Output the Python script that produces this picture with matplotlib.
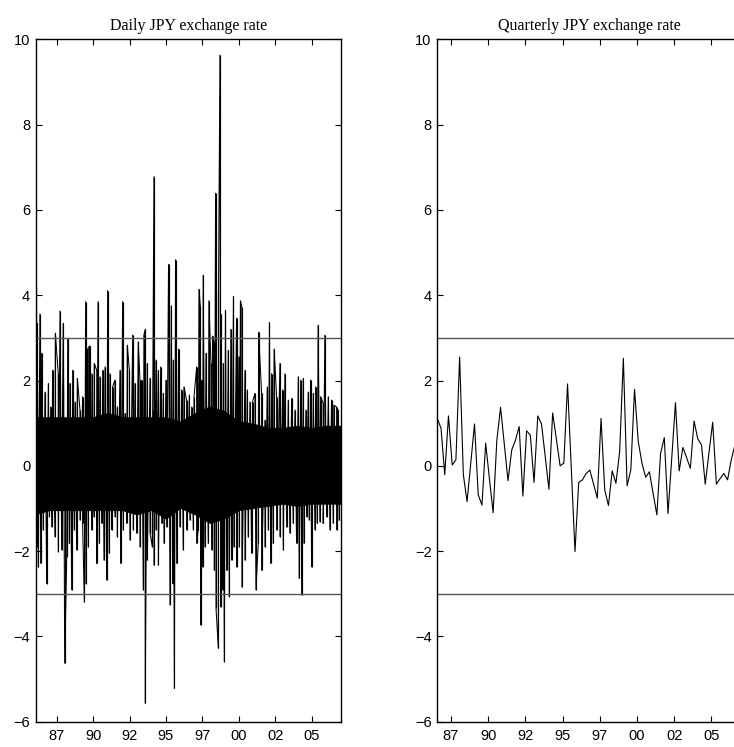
import numpy as np
import matplotlib
matplotlib.use("Agg")
import matplotlib.pyplot as plt

# ---------------- data ----------------
titles = ["Daily JPY exchange rate", "Quarterly JPY exchange rate"]
ytick_vals = [-6, -4, -2, 0, 2, 4, 6, 8, 10]
xtick_years = [1987.5, 1990.0, 1992.5, 1995.0, 1997.5, 2000.0, 2002.5, 2005.0]
xtick_labels = ["87", "90", "92", "95", "97", "00", "02", "05"]
bounds = [-3, 3]

# daily series: dense core band (yearly) and outer excursions
core_years = [1986, 1987, 1988, 1989, 1990, 1991, 1992, 1993, 1994, 1995, 1996,
              1997, 1998, 1999, 2000, 2001, 2002, 2003, 2004, 2005, 2006, 2007]
core_hi = [1.15, 1.15, 1.15, 1.15, 1.15, 1.25, 1.15, 1.15, 1.15, 1.15, 1.05,
           1.25, 1.40, 1.30, 1.05, 1.00, 0.90, 0.90, 0.95, 0.90, 0.95, 0.95]
core_lo = [-1.15, -1.05, -1.05, -1.05, -1.05, -1.05, -1.05, -1.15, -1.05, -1.25, -1.00,
           -1.15, -1.35, -1.25, -1.05, -1.00, -0.95, -0.90, -0.95, -0.90, -0.90, -0.90]

up_t = [1986.08, 1986.17, 1986.35, 1986.47, 1986.70, 1986.93, 1987.09, 1987.22, 1987.41, 1987.61,
        1987.73, 1987.91, 1987.96, 1988.26, 1988.41, 1988.60, 1988.76, 1988.92, 1989.10, 1989.28,
        1989.49, 1989.60, 1989.70, 1989.79, 1989.92, 1990.08, 1990.25, 1990.34, 1990.47, 1990.66,
        1990.82, 1991.00, 1991.16, 1991.34, 1991.50, 1991.66, 1991.85, 1992.03, 1992.19, 1992.35,
        1992.49, 1992.72, 1992.88, 1993.10, 1993.22, 1993.33, 1993.49, 1993.58, 1993.72, 1993.91,
        1994.09, 1994.18, 1994.32, 1994.48, 1994.64, 1994.82, 1995.00, 1995.18, 1995.37, 1995.51,
        1995.66, 1995.87, 1996.08, 1996.24, 1996.42, 1996.61, 1996.77, 1996.93, 1997.11, 1997.27,
        1997.36, 1997.45, 1997.56, 1997.75, 1997.95, 1998.09, 1998.20, 1998.30, 1998.41, 1998.61,
        1998.71, 1998.77, 1998.94, 1999.09, 1999.28, 1999.46, 1999.64, 1999.85, 2000.01, 2000.12,
        2000.21, 2000.43, 2000.59, 2000.77, 2000.95, 2001.11, 2001.36, 2001.57, 2001.80, 2001.96,
        2002.11, 2002.26, 2002.43, 2002.60, 2002.83, 2003.01, 2003.17, 2003.40, 2003.63, 2003.86,
        2004.09, 2004.25, 2004.43, 2004.61, 2004.77, 2004.93, 2005.12, 2005.28, 2005.45, 2005.62,
        2005.80, 2005.91, 2006.15, 2006.37, 2006.53, 2006.72, 2006.83]
up_v = [4.20, 3.34, 3.56, 2.64, 1.73, 1.93, 1.38, 2.24, 3.11, 2.16,
        3.63, 1.82, 3.34, 2.99, 1.93, 2.24, 1.50, 2.05, 1.31, 1.62,
        3.85, 2.75, 2.79, 2.81, 2.16, 2.40, 2.24, 3.85, 2.09, 2.24,
        2.32, 4.11, 2.16, 1.85, 2.01, 1.38, 2.24, 3.85, 1.23, 2.83,
        2.24, 3.07, 1.93, 2.91, 2.01, 2.01, 3.07, 3.20, 2.40, 2.05,
        1.31, 6.78, 2.48, 2.24, 2.32, 1.70, 2.01, 4.72, 3.75, 2.48,
        4.83, 2.74, 1.78, 1.85, 1.54, 1.66, 1.38, 1.62, 2.32, 4.14,
        3.75, 2.01, 4.47, 2.64, 3.87, 2.40, 3.04, 2.87, 6.39, 4.04,
        9.63, 3.56, 2.40, 3.65, 2.71, 3.20, 3.97, 3.46, 2.56, 3.87,
        3.72, 2.24, 1.78, 1.50, 1.50, 1.70, 3.13, 1.70, 1.07, 1.85,
        3.36, 2.16, 2.74, 1.62, 2.40, 1.78, 2.16, 1.54, 1.58, 1.31,
        2.09, 2.01, 2.05, 1.31, 1.73, 2.01, 1.70, 1.85, 3.30, 1.62,
        1.46, 3.06, 1.62, 1.54, 1.42, 1.38, 1.31]

dn_t = [1986.13, 1986.24, 1986.40, 1986.58, 1986.81, 1987.00, 1987.16, 1987.38, 1987.61, 1987.84,
        1988.05, 1988.19, 1988.37, 1988.53, 1988.71, 1988.87, 1989.10, 1989.28, 1989.40, 1989.51,
        1989.67, 1989.90, 1990.06, 1990.25, 1990.43, 1990.59, 1990.75, 1990.93, 1991.11, 1991.27,
        1991.50, 1991.66, 1991.89, 1992.07, 1992.30, 1992.53, 1992.76, 1992.99, 1993.22, 1993.45,
        1993.58, 1993.72, 1993.91, 1994.07, 1994.18, 1994.32, 1994.48, 1994.71, 1994.87, 1995.05,
        1995.28, 1995.46, 1995.58, 1995.74, 1995.96, 1996.19, 1996.42, 1996.65, 1996.88, 1997.11,
        1997.22, 1997.38, 1997.52, 1997.68, 1997.91, 1998.14, 1998.32, 1998.44, 1998.60, 1998.76,
        1998.89, 1999.01, 1999.17, 1999.35, 1999.51, 1999.67, 1999.85, 2000.04, 2000.22, 2000.43,
        2000.65, 2000.88, 2001.18, 2001.34, 2001.57, 2001.80, 2002.03, 2002.19, 2002.37, 2002.60,
        2002.83, 2003.06, 2003.29, 2003.51, 2003.74, 2003.97, 2004.15, 2004.32, 2004.48, 2004.66,
        2004.84, 2005.00, 2005.23, 2005.39, 2005.57, 2005.80, 2006.03, 2006.26, 2006.49, 2006.72,
        2006.90]
dn_v = [-1.90, -2.37, -2.29, -1.50, -2.76, -1.19, -1.43, -1.66, -2.01, -1.97,
        -4.63, -2.13, -1.82, -2.91, -1.50, -1.97, -1.27, -1.35, -3.19, -2.76,
        -1.90, -1.50, -1.19, -2.29, -1.82, -1.35, -2.21, -2.68, -2.05, -1.50,
        -1.19, -1.66, -2.29, -1.50, -1.35, -1.74, -1.50, -1.58, -1.90, -2.91,
        -5.57, -2.21, -1.58, -1.90, -2.33, -1.50, -2.33, -1.35, -1.82, -1.43,
        -3.26, -2.76, -5.22, -2.29, -1.43, -1.97, -1.50, -1.27, -1.50, -1.82,
        -1.50, -3.73, -2.37, -1.90, -1.82, -1.97, -2.45, -3.34, -4.28, -3.31,
        -2.91, -4.59, -2.45, -3.07, -2.21, -1.90, -2.37, -1.90, -2.84, -2.21,
        -1.66, -2.05, -2.91, -1.82, -2.45, -1.90, -1.50, -2.29, -1.82, -1.50,
        -1.66, -1.97, -1.43, -1.58, -1.35, -1.82, -2.64, -3.03, -1.82, -1.19,
        -1.27, -2.37, -1.50, -1.35, -1.31, -1.35, -1.19, -1.50, -1.35, -1.50,
        -1.27]

# quarterly series
q_start = 1986.58
q_vals = [1.11, 0.88, -0.21, 1.17, 0.02, 0.14, 2.55, -0.21, -0.84, 0.07,
          0.98, -0.68, -0.92, 0.53, -0.30, -1.10, 0.60, 1.37, 0.51, -0.35,
          0.37, 0.60, 0.92, -0.71, 0.82, 0.72, -0.39, 1.17, 0.98, 0.22,
          -0.55, 1.24, 0.62, 0.00, 0.06, 1.92, -0.05, -2.01, -0.39, -0.33,
          -0.18, -0.10, -0.43, -0.76, 1.11, -0.57, -0.93, -0.12, -0.41, 0.33,
          2.52, -0.47, -0.10, 1.79, 0.57, 0.06, -0.27, -0.14, -0.65, -1.15,
          0.29, 0.66, -1.12, 0.18, 1.48, -0.12, 0.43, 0.19, -0.06, 1.05,
          0.63, 0.49, -0.43, 0.30, 1.02, -0.43, -0.30, -0.18, -0.33, 0.14,
          0.50]

# ---------------- figure ----------------
W, H = 734, 747
fig = plt.figure(figsize=(W / 100, H / 100), dpi=100)

def axes_px(x0, x1, ytop, ybot):
    return [x0 / W, (H - ybot) / H, (x1 - x0) / W, (ybot - ytop) / H]

axL = fig.add_axes(axes_px(35.7, 340.7, 39.3, 721.7))
axR = fig.add_axes(axes_px(437.3, 742.0, 39.3, 721.7))

# daily: one line through the read extremes in time order, over a solid core
d_t = np.array(up_t + dn_t)
d_v = np.array(up_v + dn_v)
order = np.argsort(d_t, kind="stable")
axL.fill_between(core_years, core_lo, core_hi, color="black", lw=0)
axL.plot(d_t[order], d_v[order], color="black", lw=0.75)
axL.vlines(up_t, 0, up_v, color="black", lw=0.85)
axL.vlines(dn_t, 0, dn_v, color="black", lw=0.85)
axL.set_xlim(1986.06, 2007.0)

# quarterly
q_t = q_start + 0.25 * np.arange(len(q_vals))
axR.plot(q_t, q_vals, color="black", lw=0.8)
axR.set_xlim(1986.58, 2007.05)

for ax, title in zip([axL, axR], titles):
    for b in bounds:
        ax.axhline(b, color="#555555", lw=1.0)
    ax.set_ylim(-6, 10)
    ax.set_yticks(ytick_vals)
    ax.set_yticklabels([("\u2212%d" % -v) if v < 0 else "%d" % v for v in ytick_vals],
                       family="Liberation Sans", fontsize=10.5)
    ax.set_xticks(xtick_years)
    ax.set_xticklabels(xtick_labels, family="Liberation Sans", fontsize=10.5)
    ax.tick_params(direction="in", top=True, right=True, length=4, width=0.8,
                   pad=4, colors="black")
    ax.tick_params(axis="x", pad=5)
    for s in ax.spines.values():
        s.set_linewidth(1.0)
    ax.set_title(title, family="Liberation Serif", fontsize=11.5, pad=7)

fig.savefig("out.png", dpi=100)
